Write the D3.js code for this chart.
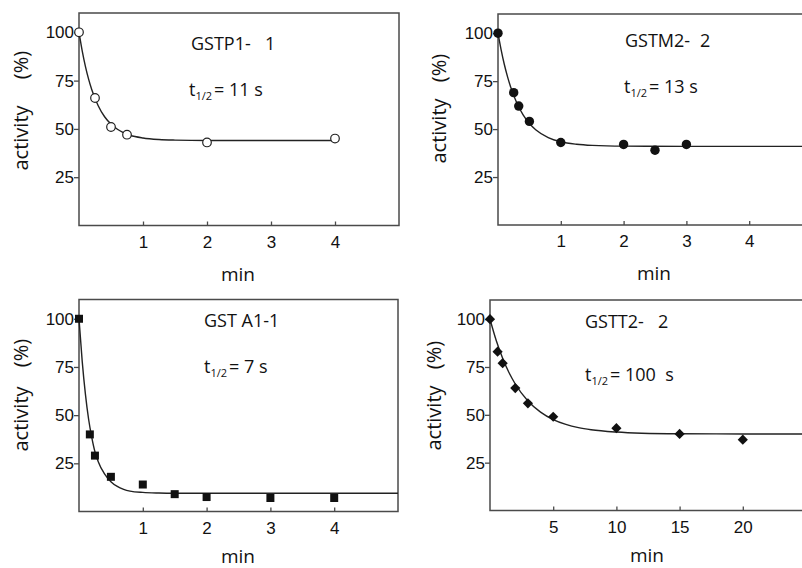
<!DOCTYPE html>
<html>
<head>
<meta charset="utf-8">
<script src="https://cdn.jsdelivr.net/npm/d3@7/dist/d3.min.js"></script>
<style>
  html, body { margin: 0; padding: 0; background: #fff; }
  svg { display: block; font-family: "Open Sans", "Noto Sans", sans-serif; font-weight: 500; }
</style>
</head>
<body>
<svg id="chart" width="802" height="568"></svg>
<script>
// ---- Data ----
const yTicks = [25, 50, 75, 100];
const xTicksShort = [1, 2, 3, 4];
const xTicksLong = [5, 10, 15, 20];

// GSTP1-1 (open circles)
const p1Time = [0, 0.25, 0.5, 0.75, 2, 4];
const p1Activity = [100, 66, 51, 47, 43, 45];
const p1FitTime = [0, 0.05, 0.1, 0.15, 0.2, 0.3, 0.4, 0.5, 0.6, 0.8, 1.0, 1.25, 1.5, 2, 3, 4];
const p1FitActivity = [100, 90.4, 82.4, 75.8, 70.3, 62.0, 56.3, 52.5, 49.8, 46.7, 45.3, 44.5, 44.2, 44, 44, 44];

// GSTM2-2 (filled circles)
const p2Time = [0, 0.25, 0.33, 0.5, 1, 2, 2.5, 3];
const p2Activity = [100, 69, 62, 54, 43, 42, 39, 42];
const p2FitTime = [0, 0.05, 0.1, 0.15, 0.2, 0.3, 0.4, 0.5, 0.6, 0.8, 1.0, 1.25, 1.5, 2, 3, 4, 5];
const p2FitActivity = [100, 91.3, 83.8, 77.5, 72.1, 63.6, 57.4, 52.9, 49.7, 45.6, 43.4, 42.1, 41.5, 41.1, 41, 41, 41];

// GST A1-1 (filled squares)
const p3Time = [0, 0.17, 0.25, 0.5, 1, 1.5, 2, 3, 4];
const p3Activity = [100, 40, 29, 18, 14, 9, 7.5, 7, 7];
const p3FitTime = [0, 0.05, 0.1, 0.15, 0.2, 0.25, 0.3, 0.4, 0.5, 0.6, 0.7, 0.8, 1.0, 1.25, 1.5, 2, 5];
const p3FitActivity = [100, 78, 61, 48, 38.5, 31, 26, 19.5, 15.5, 13, 11.5, 10.6, 9.9, 9.6, 9.5, 9.5, 9.5];

// GSTT2-2 (filled diamonds)
const p4Time = [0, 0.6, 1, 2, 3, 5, 10, 15, 20];
const p4Activity = [100, 83, 77, 64, 56, 49, 43, 40, 37];
const p4FitTime = [0, 0.5, 1, 1.5, 2, 3, 4, 5, 6, 7, 8, 10, 12, 15, 20, 25];
const p4FitActivity = [100, 88.7, 79.6, 72.1, 66.1, 57.2, 51.4, 47.5, 45.0, 43.3, 42.2, 41.0, 40.4, 40.1, 40, 40];

const names = ["GSTP1-", "GSTM2-", "GST A1-1", "GSTT2-"];
const nameSuffix = ["1", "2", "", "2"];
const halfLives = ["= 11 s", "= 13 s", "= 7 s", "= 100  s"];
const xLabel = "min";
const yLabelMain = "activity";
const yLabelUnit = "(%)";

// ---- Layout ----
const panels = [
  { time: p1Time, act: p1Activity, ft: p1FitTime, fa: p1FitActivity, marker: "openCircle",
    xr: [79, 399], yr: [225.5, 13], xd: [0, 5], ticks: xTicksShort,
    nameX: 191, nameY: 50, sufX: 265, tX: 189, tY: 96, yl: 28, ylA: 138, ylU: 65, minX: 238, minY: 281 },
  { time: p2Time, act: p2Activity, ft: p2FitTime, fa: p2FitActivity, marker: "circle",
    xr: [498, 812], yr: [225, 14], xd: [0, 5], ticks: xTicksShort,
    nameX: 625, nameY: 47, sufX: 700, tX: 624, tY: 93, yl: 446, ylA: 131, ylU: 68, minX: 654, minY: 280 },
  { time: p3Time, act: p3Activity, ft: p3FitTime, fa: p3FitActivity, marker: "square",
    xr: [79, 398], yr: [511.5, 299.5], xd: [0, 5], ticks: xTicksShort,
    nameX: 204, nameY: 327, sufX: 0, tX: 204, tY: 373, yl: 28, ylA: 419, ylU: 353, minX: 238, minY: 563 },
  { time: p4Time, act: p4Activity, ft: p4FitTime, fa: p4FitActivity, marker: "diamond",
    xr: [490, 806], yr: [510.5, 300], xd: [0, 25], ticks: xTicksLong,
    nameX: 585, nameY: 328, sufX: 658, tX: 585, tY: 381, yl: 441, ylA: 418, ylU: 355, minX: 647, minY: 562 }
];

const svg = d3.select("#chart");
const frameColor = "#4a4a4a";
const inkColor = "#111";

panels.forEach((p, i) => {
  const x = d3.scaleLinear().domain(p.xd).range(p.xr);
  const y = d3.scaleLinear().domain([0, 110]).range(p.yr);
  const g = svg.append("g");

  // frame
  g.append("rect")
    .attr("x", p.xr[0]).attr("y", p.yr[1])
    .attr("width", p.xr[1] - p.xr[0]).attr("height", p.yr[0] - p.yr[1])
    .attr("fill", "none").attr("stroke", frameColor).attr("stroke-width", 1.5);

  // x axis (ticks inside)
  const xa = g.append("g").attr("transform", `translate(0,${p.yr[0]})`)
    .call(d3.axisBottom(x).tickValues(p.ticks).tickSizeInner(-4).tickSizeOuter(0).tickPadding(10).tickFormat(d3.format("d")));
  xa.select(".domain").remove();
  xa.selectAll("line").attr("stroke", frameColor).attr("stroke-width", 1.3);
  xa.selectAll("text").attr("font-size", 17).attr("fill", inkColor).attr("font-family", null);

  // y axis (ticks outside)
  const ya = g.append("g").attr("transform", `translate(${p.xr[0]},0)`)
    .call(d3.axisLeft(y).tickValues(yTicks).tickSizeInner(5).tickSizeOuter(0).tickPadding(0).tickFormat(d3.format("d")));
  ya.select(".domain").remove();
  ya.selectAll("line").attr("stroke", frameColor).attr("stroke-width", 1.3);
  ya.selectAll("text").attr("font-size", 17).attr("fill", inkColor).attr("font-family", null);

  // fitted curve
  const fit = p.ft.map((t, k) => [t, p.fa[k]]);
  g.append("path").datum(fit)
    .attr("d", d3.line().x(d => x(d[0])).y(d => y(d[1])).curve(d3.curveMonotoneX))
    .attr("fill", "none").attr("stroke", "#222").attr("stroke-width", 1.4);

  // markers
  const pts = p.time.map((t, k) => [t, p.act[k]]);
  const mg = g.append("g");
  if (p.marker === "openCircle") {
    mg.selectAll("circle").data(pts).join("circle")
      .attr("cx", d => x(d[0])).attr("cy", d => y(d[1])).attr("r", 4.3)
      .attr("fill", "#fff").attr("stroke", "#222").attr("stroke-width", 1.2);
  } else if (p.marker === "circle") {
    mg.selectAll("circle").data(pts).join("circle")
      .attr("cx", d => x(d[0])).attr("cy", d => y(d[1])).attr("r", 4.7)
      .attr("fill", "#111");
  } else if (p.marker === "square") {
    mg.selectAll("path").data(pts).join("path")
      .attr("d", d3.symbol(d3.symbolSquare, 64))
      .attr("transform", d => `translate(${x(d[0])},${y(d[1])})`)
      .attr("fill", "#111");
  } else {
    mg.selectAll("path").data(pts).join("path")
      .attr("d", d3.symbol(d3.symbolSquare, 52))
      .attr("transform", d => `translate(${x(d[0])},${y(d[1])}) rotate(45)`)
      .attr("fill", "#111");
  }

  // enzyme name
  const nm = g.append("text").attr("x", p.nameX).attr("y", p.nameY)
    .attr("font-size", 18).attr("fill", inkColor);
  nm.append("tspan").text(names[i]);
  if (nameSuffix[i]) nm.append("tspan").attr("x", p.sufX).text(nameSuffix[i]);

  // half life
  const hl = g.append("text").attr("x", p.tX).attr("y", p.tY)
    .attr("font-size", 18).attr("fill", inkColor).style("white-space", "pre");
  hl.append("tspan").text("t");
  hl.append("tspan").attr("font-size", 11).attr("dy", 4).text("1/2");
  hl.append("tspan").attr("dy", -4).attr("dx", 2).text(halfLives[i]);

  // y label
  g.append("text").attr("transform", `translate(${p.yl},${p.ylA}) rotate(-90)`)
    .attr("text-anchor", "middle").attr("font-size", 20).attr("fill", inkColor).text(yLabelMain);
  g.append("text").attr("transform", `translate(${p.yl},${p.ylU}) rotate(-90)`)
    .attr("text-anchor", "middle").attr("font-size", 20).attr("fill", inkColor).text(yLabelUnit);

  // x label
  g.append("text").attr("x", p.minX).attr("y", p.minY)
    .attr("text-anchor", "middle").attr("font-size", 19).attr("fill", inkColor).text(xLabel);
});
</script>
</body>
</html>
